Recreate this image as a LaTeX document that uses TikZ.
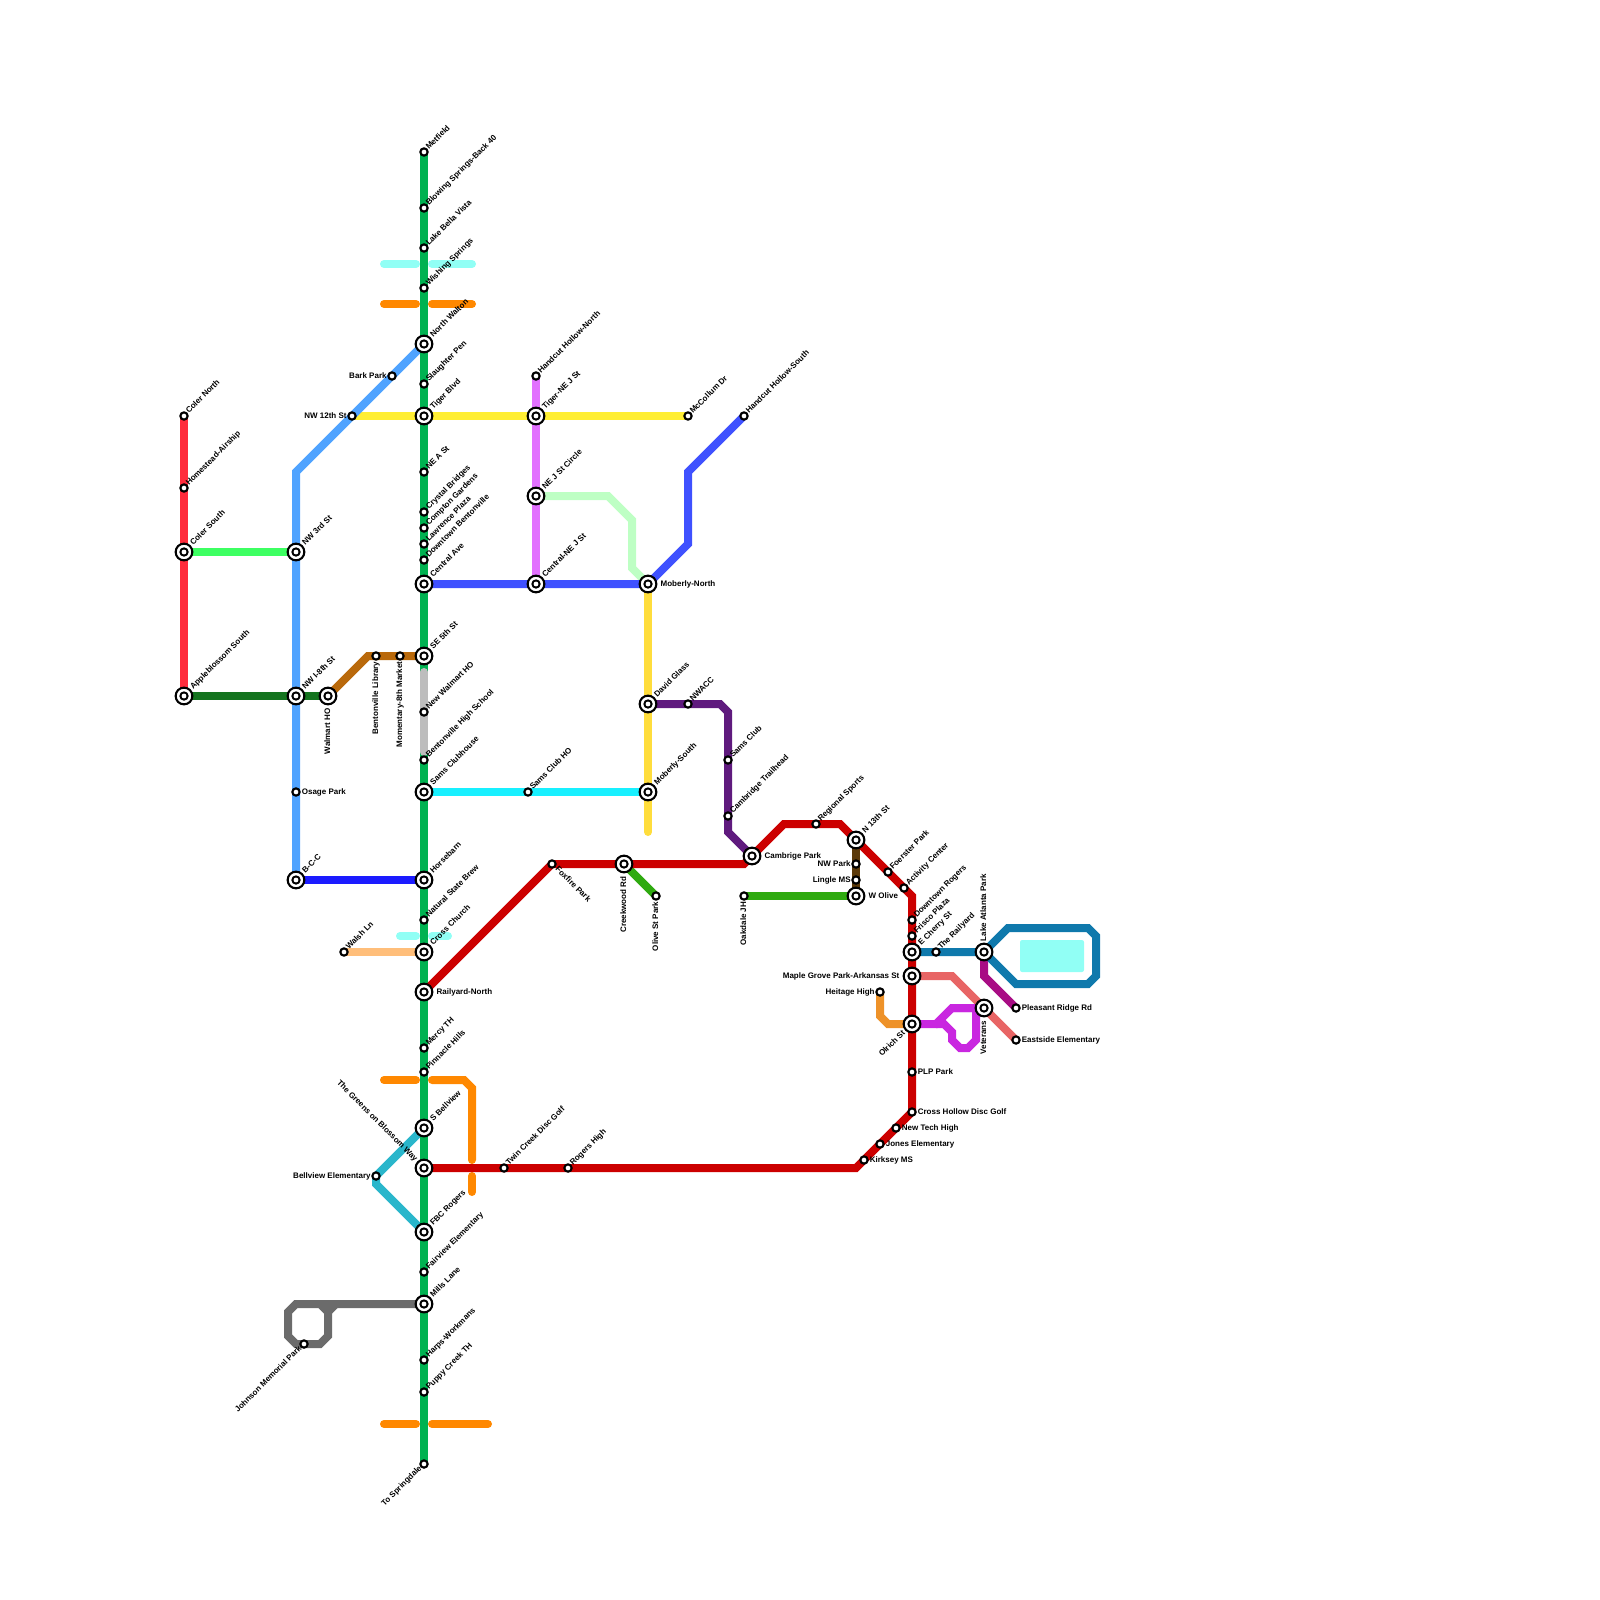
\documentclass[tikz,border=0pt]{standalone}
\usepackage{fontspec}
\setmainfont{Liberation Sans}
\usetikzlibrary{backgrounds}
\tikzset{
  route/.style={line width=5.69pt,line join=miter,line cap=butt},
  bar/.style={line width=5.69pt,line cap=round,line join=miter},
  lab/.style={font=\bfseries\fontsize{5.69pt}{6.8pt}\selectfont,inner sep=0pt,text height=4.1pt,text depth=1.1pt},
  stn/.style={circle,draw=black,fill=white,line width=1.5pt,inner sep=0pt,minimum size=5.2pt},
  hub/.style={circle,draw=black,fill=white,line width=1.5pt,inner sep=0pt,minimum size=11.9pt,
    path picture={\fill[black] (path picture bounding box.center) circle (3.35pt);
      \fill[white] (path picture bounding box.center) circle (1.7pt);}},
  % labels of small stations
  lne/.style={label={[lab,rotate=45,anchor=west]45:#1}},
  lse/.style={label={[lab,xshift=0.7pt,yshift=-0.4pt,rotate=-45,anchor=west]-45:#1}},
  lsw/.style={label={[lab,rotate=45,anchor=east]225:#1}},
  lright/.style={label={[lab,xshift=0.6pt,anchor=west]0:#1}},
  lleft/.style={label={[lab,xshift=-0.3pt,anchor=east]180:#1}},
  ldown/.style={label={[lab,yshift=-0.6pt,rotate=90,anchor=east]-90:#1}},
  % labels of interchanges
  hne/.style={label={[lab,xshift=0.75pt,yshift=0.75pt,rotate=45,anchor=west]45:#1}},
  hsw/.style={label={[lab,xshift=-0.75pt,yshift=-0.75pt,rotate=45,anchor=east]225:#1}},
  hnw/.style={label={[lab,xshift=-0.75pt,yshift=0.75pt,rotate=-45,anchor=east]135:#1}},
  hright/.style={label={[lab,xshift=2.1pt,anchor=west]0:#1}},
  hleft/.style={label={[lab,xshift=-2.1pt,anchor=east]180:#1}},
  hup/.style={label={[lab,yshift=0.7pt,rotate=90,anchor=west]90:#1}},
  hdown/.style={label={[lab,yshift=-2.1pt,rotate=90,anchor=east]-90:#1}},
}
\definecolor{colerred}{HTML}{FF2C3C}
\definecolor{colergreen}{HTML}{3DFF62}
\definecolor{skyblue}{HTML}{4FA3FF}
\definecolor{applegreen}{HTML}{14741F}
\definecolor{libbrown}{HTML}{B9690B}
\definecolor{bccblue}{HTML}{1B1BFF}
\definecolor{mobblue}{HTML}{3F51FF}
\definecolor{walshpeach}{HTML}{FFBE7A}
\definecolor{samscyan}{HTML}{18F0FF}
\definecolor{jstpink}{HTML}{E270FF}
\definecolor{palegreen}{HTML}{BEFFC4}
\definecolor{nwpurple}{HTML}{5F1A7E}
\definecolor{mainred}{HTML}{CC0000}
\definecolor{olivegreen}{HTML}{2FAA10}
\definecolor{parkbrown}{HTML}{5C3A0A}
\definecolor{salmon}{HTML}{E86565}
\definecolor{vetmagenta}{HTML}{C927E0}
\definecolor{ridgemagenta}{HTML}{A80C84}
\definecolor{laketeal}{HTML}{0F79AC}
\definecolor{bellteal}{HTML}{29B6CB}
\definecolor{millsgray}{HTML}{6B6B6B}
\definecolor{hsgray}{HTML}{BDBDBD}
\definecolor{trunkgreen}{HTML}{00B251}
\definecolor{tigeryellow}{HTML}{FFEE33}
\definecolor{mobyellow}{HTML}{FFDD3C}
\definecolor{creekorange}{HTML}{FF8800}
\definecolor{heritageorange}{HTML}{EE9229}
\definecolor{watercyan}{HTML}{91FFF5}

\begin{document}
\begin{tikzpicture}[x=0.25mm,y=-0.25mm]
    \useasboundingbox (0,0) rectangle (1600,1600);

    % Trunk stations
    \node[stn,lne=Metfield] (metfield) at (424,152) {};
    \node[stn,lne=Blowing Springs-Back 40] (blowing) at (424,208) {};
    \node[stn,lne=Lake Bella Vista] (bellavista) at (424,248) {};
    \node[stn,lne=Wishing Springs] (wishing) at (424,288) {};
    \node[hub,hne=North Walton] (walton) at (424,344) {};
    \node[stn,lne=Slaughter Pen] (slaughter) at (424,384) {};
    \node[hub,hne=Tiger Blvd] (tiger) at (424,416) {};
    \node[stn,lne=NE A St] (nea) at (424,472) {};
    \node[stn,lne=Crystal Bridges] (crystal) at (424,512) {};
    \node[stn,lne=Compton Gardens] (compton) at (424,528) {};
    \node[stn,lne=Lawrence Plaza] (lawrence) at (424,544) {};
    \node[stn,lne=Downtown Bentonville] (dtbento) at (424,560) {};
    \node[hub,hne=Central Ave] (central) at (424,584) {};
    \node[hub,hne=SE 5th St] (se5th) at (424,656) {};
    \node[stn,lne=New Walmart HO] (newwalmart) at (424,712) {};
    \node[stn,lne=Bentonville High School] (bentohigh) at (424,760) {};
    \node[hub,hne=Sams Clubhouse] (clubhouse) at (424,792) {};
    \node[hub,hne=Horsebarn] (horsebarn) at (424,880) {};
    \node[stn,lne=Natural State Brew] (natural) at (424,920) {};
    \node[hub,hne=Cross Church] (crosschurch) at (424,952) {};
    \node[hub,hright=Railyard-North] (railnorth) at (424,992) {};
    \node[stn,lne=Mercy TH] (mercy) at (424,1048) {};
    \node[stn,lne=Pinnacle Hills] (pinnacle) at (424,1072) {};
    \node[hub,hne=S Bellview] (sbellview) at (424,1128) {};
    \node[hub,hnw=The Greens on Blossom Way] (greens) at (424,1168) {};
    \node[hub,hne=FBC Rogers] (fbc) at (424,1232) {};
    \node[stn,lne=Fairview Elementary] (fairview) at (424,1272) {};
    \node[hub,hne=Mills Lane] (mills) at (424,1304) {};
    \node[stn,lne=Harps-Workmans] (harps) at (424,1360) {};
    \node[stn,lne=Puppy Creek TH] (puppy) at (424,1392) {};
    \node[stn,lsw=To Springdale] (springdale) at (424,1464) {};

    % West side
    \node[stn,lne=Coler North] (colern) at (184,416) {};
    \node[stn,lne=Homestead-Airship] (homestead) at (184,488) {};
    \node[hub,hne=Coler South] (colers) at (184,552) {};
    \node[hub,hne=Appleblossom South] (apple) at (184,696) {};
    \node[hub,hne=NW 3rd St] (nw3rd) at (296,552) {};
    \node[hub,hne=NW I-8th St] (nwi8) at (296,696) {};
    \node[stn,lright=Osage Park] (osage) at (296,792) {};
    \node[hub,hne=B-C-C] (bcc) at (296,880) {};
    \node[hub,hdown=Walmart HO] (walmart) at (328,696) {};
    \node[stn,ldown=Bentonville Library] (library) at (376,656) {};
    \node[stn,ldown=Momentary-8th Market] (momentary) at (400,656) {};
    \node[stn,lleft=Bark Park] (bark) at (392,376) {};
    \node[stn,lleft=NW 12th St] (nw12th) at (352,416) {};
    \node[stn,lne=Walsh Ln] (walsh) at (344,952) {};
    \node[stn,lleft=Bellview Elementary] (bellview) at (376,1176) {};
    \node[stn,lsw=Johnson Memorial Park] (johnson) at (304,1344) {};

    % Middle
    \node[stn,lne=Handcut Hollow-North] (hollown) at (536,376) {};
    \node[hub,hne=Tiger-NE J St] (tigerj) at (536,416) {};
    \node[hub,hne=NE J St Circle] (jcircle) at (536,496) {};
    \node[hub,hne=Central-NE J St] (centralj) at (536,584) {};
    \node[stn,lne=McCollum Dr] (mccollum) at (688,416) {};
    \node[stn,lne=Handcut Hollow-South] (hollows) at (744,416) {};
    \node[hub,hright=Moberly-North] (mobn) at (648,584) {};
    \node[hub,hne=David Glass] (glass) at (648,704) {};
    \node[stn,lne=NWACC] (nwacc) at (688,704) {};
    \node[hub,hne=Moberly-South] (mobs) at (648,792) {};
    \node[stn,lne=Sams Club HO] (samshq) at (528,792) {};
    \node[stn,lne=Sams Club] (samsclub) at (728,760) {};
    \node[stn,lne=Cambridge Trailhead] (trailhead) at (728,816) {};
    \node[hub,hright=Cambrige Park] (cambrige) at (752,856) {};
    \node[stn,lse=Foxfire Park] (foxfire) at (552,864) {};
    \node[hub,hdown=Creekwood Rd] (creekwood) at (624,864) {};
    \node[stn,ldown=Olive St Park] (olivepark) at (656,896) {};
    \node[stn,ldown=Oakdale JH] (oakdale) at (744,896) {};
    \node[stn,lne=Twin Creek Disc Golf] (twincreek) at (504,1168) {};
    \node[stn,lne=Rogers High] (rogershigh) at (568,1168) {};

    % East side
    \node[stn,lne=Regional Sports] (regional) at (816,824) {};
    \node[hub,hne=N 13th St] (n13th) at (856,840) {};
    \node[stn,lleft=NW Park] (nwpark) at (856,864) {};
    \node[stn,lleft=Lingle MS] (lingle) at (856,880) {};
    \node[hub,hright=W Olive] (wolive) at (856,896) {};
    \node[stn,lne=Foerster Park] (foerster) at (888,872) {};
    \node[stn,lne=Activity Center] (activity) at (904,888) {};
    \node[stn,lne=Downtown Rogers] (dtrogers) at (912,920) {};
    \node[stn,lne=Frisco Plaza] (frisco) at (912,936) {};
    \node[hub,hne=E Cherry St] (echerry) at (912,952) {};
    \node[stn,lne=The Railyard] (railyard) at (936,952) {};
    \node[hub,hup=Lake Atlanta Park] (lakeatlanta) at (984,952) {};
    \node[hub,hleft=Maple Grove Park-Arkansas St] (maple) at (912,976) {};
    \node[stn,lleft=Heitage High] (heitage) at (880,992) {};
    \node[hub,hsw=Olrich St] (olrich) at (912,1024) {};
    \node[hub,hdown=Veterans] (veterans) at (984,1008) {};
    \node[stn,lright=Pleasant Ridge Rd] (pleasant) at (1016,1008) {};
    \node[stn,lright=Eastside Elementary] (eastside) at (1016,1040) {};
    \node[stn,lright=PLP Park] (plp) at (912,1072) {};
    \node[stn,lright=Cross Hollow Disc Golf] (crosshollow) at (912,1112) {};
    \node[stn,lright=New Tech High] (newtech) at (896,1128) {};
    \node[stn,lright=Jones Elementary] (jones) at (880,1144) {};
    \node[stn,lright=Kirksey MS] (kirksey) at (864,1160) {};

    % Bends
    \coordinate (skybend) at (296,472);
    \coordinate (libbend) at (368,656);
    \coordinate (jsta) at (608,496);
    \coordinate (jstb) at (632,520);
    \coordinate (jstc) at (632,568);
    \coordinate (mobbenda) at (688,544);
    \coordinate (mobbendb) at (688,472);
    \coordinate (mobyend) at (648,832);
    \coordinate (purplea) at (720,704);
    \coordinate (purpleb) at (728,712);
    \coordinate (purplec) at (728,832);
    \coordinate (reda) at (744,864);
    \coordinate (redb) at (784,824);
    \coordinate (redc) at (840,824);
    \coordinate (redd) at (912,896);
    \coordinate (rede) at (856,1168);
    \coordinate (salmona) at (952,976);
    \coordinate (ridgea) at (984,976);
    \coordinate (lakea) at (1008,928);
    \coordinate (lakeb) at (1088,928);
    \coordinate (lakec) at (1096,936);
    \coordinate (laked) at (1096,976);
    \coordinate (lakee) at (1088,984);
    \coordinate (lakef) at (1016,984);
    \coordinate (heita) at (880,1016);
    \coordinate (heitb) at (888,1024);
    \coordinate (veta) at (936,1024);
    \coordinate (vetb) at (952,1008);
    \coordinate (vetc) at (976,1008);
    \coordinate (vetd) at (976,1040);
    \coordinate (vete) at (968,1048);
    \coordinate (vetf) at (960,1048);
    \coordinate (vetg) at (952,1040);
    \coordinate (veth) at (952,1032);
    \coordinate (veti) at (944,1024);
    \coordinate (bella) at (376,1184);
    \coordinate (graya) at (296,1304);
    \coordinate (grayb) at (288,1312);
    \coordinate (grayc) at (288,1336);
    \coordinate (grayd) at (296,1344);
    \coordinate (graye) at (320,1344);
    \coordinate (grayf) at (328,1336);
    \coordinate (grayg) at (328,1312);
    \coordinate (grayh) at (320,1304);
    \coordinate (grayi) at (336,1304);
    \coordinate (hsa) at (424,672);
    \coordinate (hsb) at (424,752);
    % Creek crossings
    \coordinate (oa1) at (384,304);
    \coordinate (oa2) at (416,304);
    \coordinate (oa3) at (432,304);
    \coordinate (oa4) at (472,304);
    \coordinate (ca1) at (384,264);
    \coordinate (ca2) at (416,264);
    \coordinate (ca3) at (432,264);
    \coordinate (ca4) at (472,264);
    \coordinate (cb1) at (400,936);
    \coordinate (cb2) at (416,936);
    \coordinate (cb3) at (432,936);
    \coordinate (cb4) at (448,936);
    \coordinate (ob1) at (384,1080);
    \coordinate (ob2) at (416,1080);
    \coordinate (ob3) at (432,1080);
    \coordinate (ob4) at (464,1080);
    \coordinate (ob5) at (472,1088);
    \coordinate (ob6) at (472,1160);
    \coordinate (ob7) at (472,1176);
    \coordinate (ob8) at (472,1192);
    \coordinate (oc1) at (384,1424);
    \coordinate (oc2) at (416,1424);
    \coordinate (oc3) at (432,1424);
    \coordinate (oc4) at (488,1424);

    \begin{scope}[on background layer]
    % Water
    \fill[watercyan,rounded corners=1.5pt] (1020,940) rectangle (1084,972);
    \draw[bar,watercyan] (ca1) -- (ca2);
    \draw[bar,watercyan] (ca3) -- (ca4);
    \draw[bar,watercyan] (cb1) -- (cb2);
    \draw[bar,watercyan] (cb3) -- (cb4);
    \draw[bar,creekorange] (oa1) -- (oa2);
    \draw[bar,creekorange] (oa3) -- (oa4);
    \draw[bar,creekorange] (ob1) -- (ob2);
    \draw[bar,creekorange] (ob3) -- (ob4) -- (ob5) -- (ob6);
    \draw[bar,creekorange] (ob7) -- (ob8);
    \draw[bar,creekorange] (oc1) -- (oc2);
    \draw[bar,creekorange] (oc3) -- (oc4);

    % Feeder lines
    \draw[route,bellteal] (sbellview.center) -- (bellview.center) -- (bella) -- (fbc.center);
    \draw[route,walshpeach] (walsh.center) -- (crosschurch.center);
    \draw[route,tigeryellow] (nw12th.center) -- (tiger.center) -- (tigerj.center) -- (mccollum.center);
    \draw[route,colerred] (colern.center) -- (homestead.center) -- (colers.center) -- (apple.center);
    \draw[route,colergreen] (colers.center) -- (nw3rd.center);
    \draw[route,skyblue] (walton.center) -- (bark.center) -- (nw12th.center) -- (skybend) -- (nw3rd.center) -- (nwi8.center) -- (osage.center) -- (bcc.center);
    \draw[route,applegreen] (apple.center) -- (nwi8.center) -- (walmart.center);
    \draw[route,libbrown] (walmart.center) -- (libbend) -- (library.center) -- (momentary.center) -- (se5th.center);
    \draw[route,bccblue] (bcc.center) -- (horsebarn.center);
    \draw[route,jstpink] (hollown.center) -- (tigerj.center) -- (jcircle.center) -- (centralj.center);
    \draw[route,palegreen] (jcircle.center) -- (jsta) -- (jstb) -- (jstc) -- (mobn.center);
    \draw[route,mobyellow] (mobn.center) -- (glass.center) -- (mobs.center);
    \draw[bar,mobyellow] (mobs.center) -- (mobyend);
    \draw[route,mobblue] (central.center) -- (centralj.center) -- (mobn.center) -- (mobbenda) -- (mobbendb) -- (hollows.center);
    \draw[route,samscyan] (clubhouse.center) -- (samshq.center) -- (mobs.center);
    \draw[route,nwpurple] (glass.center) -- (nwacc.center) -- (purplea) -- (purpleb) -- (samsclub.center) -- (trailhead.center) -- (purplec) -- (cambrige.center);
    \draw[route,olivegreen] (creekwood.center) -- (olivepark.center);
    \draw[route,olivegreen] (oakdale.center) -- (wolive.center);
    \draw[route,parkbrown] (n13th.center) -- (nwpark.center) -- (lingle.center) -- (wolive.center);

    % Trunk
    \draw[route,trunkgreen] (metfield.center) -- (springdale.center);
    \draw[bar,hsgray] (hsa) -- (hsb);
    \draw[route,millsgray] (mills.center) -- (graya) -- (grayb) -- (grayc) -- (grayd) -- (graye) -- (grayf) -- (grayg) -- (grayh);
    \draw[route,millsgray] (grayi) -- (grayg);

    % East lines
    \draw[route,salmon] (maple.center) -- (salmona) -- (veterans.center) -- (eastside.center);
    \draw[route,ridgemagenta] (lakeatlanta.center) -- (ridgea) -- (pleasant.center);
    \draw[route,laketeal] (echerry.center) -- (railyard.center) -- (lakeatlanta.center) -- (lakea) -- (lakeb) -- (lakec) -- (laked) -- (lakee) -- (lakef) -- (lakeatlanta.center);
    \draw[route,heritageorange] (heitage.center) -- (heita) -- (heitb) -- (olrich.center);
    \draw[route,vetmagenta] (olrich.center) -- (veta) -- (vetb) -- (vetc) -- (veterans.center);
    \draw[route,vetmagenta] (vetb) -- (vetc) -- (vetd) -- (vete) -- (vetf) -- (vetg) -- (veth) -- (veti) -- (veta);

    % Red
    \draw[route,mainred] (railnorth.center) -- (foxfire.center) -- (creekwood.center) -- (reda) -- (cambrige.center) -- (redb) -- (regional.center) -- (redc) -- (n13th.center) -- (foerster.center) -- (activity.center) -- (redd) -- (dtrogers.center) -- (frisco.center) -- (echerry.center) -- (maple.center) -- (olrich.center) -- (plp.center) -- (crosshollow.center) -- (newtech.center) -- (jones.center) -- (kirksey.center) -- (rede) -- (rogershigh.center) -- (twincreek.center) -- (greens.center);
    \end{scope}
\end{tikzpicture}
\end{document}
